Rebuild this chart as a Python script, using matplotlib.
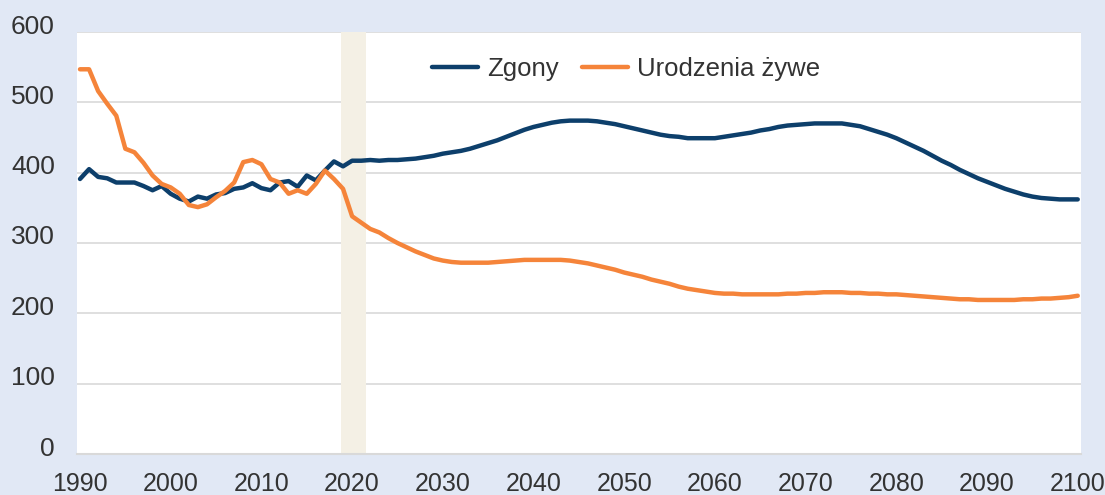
import matplotlib
matplotlib.use("Agg")
import matplotlib.pyplot as plt
import matplotlib.transforms as mtransforms
import numpy as np

# --- data (tys.) ---
years = list(range(1990, 2101))

zgony = [
    391, 405, 394, 392, 386, 386, 386, 381, 375, 381,  # 1990-1999
    370, 363, 359, 366, 363, 369, 371, 377, 379, 385,  # 2000-2009
    378, 375, 386, 388, 380, 396, 389, 403, 416, 409,  # 2010-2019
    417, 417, 418, 417, 418, 418, 419, 420, 422, 424,  # 2020-2029
    427, 429, 431, 434, 438, 442, 446, 451, 456, 461,  # 2030-2039
    465, 468, 471, 473, 474, 474, 474, 473, 471, 469,  # 2040-2049
    466, 463, 460, 457, 454, 452, 451, 449, 449, 449,  # 2050-2059
    449, 451, 453, 455, 457, 460, 462, 465, 467, 468,  # 2060-2069
    469, 470, 470, 470, 470, 468, 466, 462, 458, 454,  # 2070-2079
    449, 443, 437, 431, 424, 417, 411, 404, 398, 392,  # 2080-2089
    387, 382, 377, 373, 369, 366, 364, 363, 362, 362,  # 2090-2099
    362,                                               # 2100
]

urodzenia = [
    547, 547, 516, 498, 481, 434, 429, 414, 396, 384,  # 1990-1999
    379, 370, 354, 351, 355, 365, 374, 386, 415, 418,  # 2000-2009
    412, 391, 386, 370, 375, 370, 384, 403, 391, 377,  # 2010-2019
    338, 329, 320, 315, 307, 300, 294, 288, 283, 278,  # 2020-2029
    275, 273, 272, 272, 272, 272, 273, 274, 275, 276,  # 2030-2039
    276, 276, 276, 276, 275, 273, 271, 268, 265, 262,  # 2040-2049
    258, 255, 252, 248, 245, 242, 238, 235, 233, 231,  # 2050-2059
    229, 228, 228, 227, 227, 227, 227, 227, 228, 228,  # 2060-2069
    229, 229, 230, 230, 230, 229, 229, 228, 228, 227,  # 2070-2079
    227, 226, 225, 224, 223, 222, 221, 220, 220, 219,  # 2080-2089
    219, 219, 219, 219, 220, 220, 221, 221, 222, 223,  # 2090-2099
    225,                                               # 2100
]

covid_span = (2018.8, 2021.5)
y_ticks = [0, 100, 200, 300, 400, 500, 600]
x_ticks = list(range(1990, 2101, 10))

NAVY = "#0d3f6b"
ORANGE = "#f5843a"
BG = "#e1e8f5"
GRID = "#d9d9d9"
TEXT = "#333333"

plt.rcParams['font.family'] = ['Liberation Sans', 'DejaVu Sans']

fig = plt.figure(figsize=(11.05, 4.95), dpi=100, facecolor=BG)
ax = fig.add_axes([77 / 1105, 41 / 495, 1004 / 1105, 422 / 495])
ax.set_facecolor("white")

ax.axvspan(*covid_span, color="#f4f0e5", lw=0, zorder=1)

ax.plot(years, zgony, color=NAVY, lw=3.2, solid_capstyle="round",
        solid_joinstyle="round", label="Zgony", zorder=3)
ax.plot(years, urodzenia, color=ORANGE, lw=3.2, solid_capstyle="round",
        solid_joinstyle="round", label="Urodzenia żywe", zorder=3)

ax.set_xlim(1989.67, 2100.36)
ax.set_ylim(0, 600)
ax.set_yticks(y_ticks)
ax.set_xticks(x_ticks)
ax.grid(axis="y", color=GRID, lw=1.2, zorder=0)
ax.set_axisbelow(True)

for s in ["top", "right", "left"]:
    ax.spines[s].set_visible(False)
ax.spines["bottom"].set_color(GRID)
ax.spines["bottom"].set_linewidth(1.5)

ax.tick_params(axis="both", length=0, labelcolor=TEXT)
ax.tick_params(axis="y", pad=16, labelsize=19)
ax.tick_params(axis="x", pad=13, labelsize=18)

# y labels sit a little above their gridlines
offset = mtransforms.ScaledTranslation(0, 8 / 100, fig.dpi_scale_trans)
for lab in ax.get_yticklabels():
    lab.set_transform(lab.get_transform() + offset)

leg = ax.legend(loc="center", bbox_to_anchor=(0.547, 0.912), ncol=2,
                frameon=False, fontsize=18.5, handlelength=1.8,
                handletextpad=0.35, columnspacing=0.9)
for t in leg.get_texts():
    t.set_color(TEXT)

fig.savefig("out.png", dpi=100, facecolor=BG)
